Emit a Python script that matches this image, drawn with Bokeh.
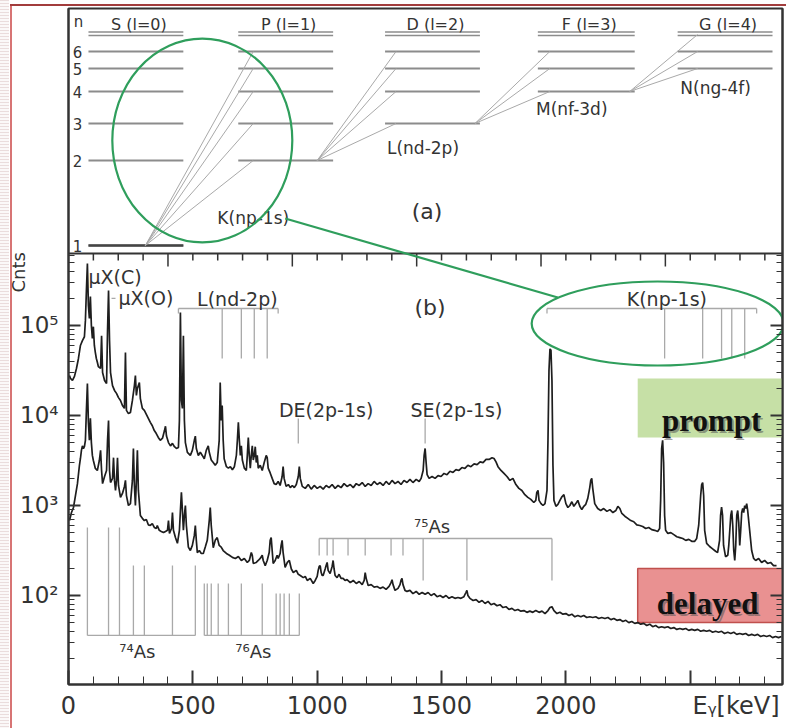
from bokeh.plotting import figure
from bokeh.models import Range1d, LinearScale, LogAxis, FixedTicker, Title
from bokeh.core.properties import value
from bokeh.embed import file_html
from bokeh.resources import INLINE

# ---------------- panel (b): gamma spectra (E [keV], counts) ----------------
prompt_points = [
    (4, 27800), (8, 25800), (16, 24500), (24, 27200), (32, 33300), (40, 43000), (48, 60000), (56, 68000),
    (64, 75000), (68, 114000), (72, 245000), (76, 489000), (80, 167000), (84, 120000), (88, 210000),
    (92, 100000), (96, 72000), (100, 97000), (104, 60000), (108, 50000), (112, 43000), (116, 39000),
    (120, 35000), (129, 33300), (133, 77000), (137, 30000), (145, 24500), (153, 22700), (157, 88000),
    (161, 245000), (165, 68000), (169, 30000), (177, 21500), (185, 19000), (193, 17600), (201, 15800),
    (209, 14700), (217, 12900), (225, 12000), (229, 50000), (233, 11400), (241, 10500), (249, 10800),
    (257, 14700), (265, 21500), (269, 27800), (273, 16700), (277, 20000), (285, 23300), (289, 15400),
    (297, 12000), (305, 11400), (313, 10300), (321, 9300), (329, 8400), (337, 7700), (345, 6800),
    (353, 6300), (361, 5700), (369, 5300), (378, 5600), (386, 6800), (390, 7600), (394, 5900),
    (402, 5000), (410, 4600), (418, 4900), (426, 4500), (434, 4300), (442, 4400), (446, 8800),
    (450, 139000), (454, 14700), (458, 12000), (462, 77000), (466, 8800), (470, 5000), (478, 3900),
    (490, 3600), (498, 4100), (506, 5300), (510, 5900), (514, 4300), (522, 3600), (530, 3900),
    (538, 3600), (546, 3300), (554, 4100), (562, 4600), (566, 3900), (574, 3200), (582, 3000),
    (590, 2800), (598, 3000), (606, 5300), (610, 23300), (614, 8800), (618, 12900), (622, 5300),
    (626, 3300), (635, 2700), (643, 2600), (651, 2700), (659, 2500), (667, 2700), (675, 3600),
    (679, 5300), (683, 8400), (687, 5300), (691, 3600), (695, 4600), (699, 3200), (707, 2600),
    (715, 2450), (719, 3600), (723, 5700), (727, 3600), (731, 2600), (735, 3600), (739, 4600),
    (743, 3200), (747, 3600), (751, 4500), (755, 3000), (759, 3600), (763, 2600), (771, 2800),
    (779, 2450), (787, 3000), (795, 3600), (799, 3400), (803, 2600), (811, 2300), (819, 2000),
    (827, 1750), (835, 1710), (843, 1850), (851, 1670), (859, 2100), (863, 2700), (867, 2000),
    (875, 1630), (884, 1710), (892, 1580), (900, 1670), (908, 1580), (916, 1710), (924, 2100),
    (928, 2700), (932, 2000), (940, 1630), (952, 1550), (964, 1710), (976, 1520), (988, 1670),
    (1000, 1550), (1012, 1630), (1024, 1520), (1036, 1670), (1048, 1580), (1060, 1710), (1072, 1550),
    (1084, 1670), (1096, 1580), (1108, 1750), (1120, 1630), (1133, 1710), (1145, 1580), (1157, 1750),
    (1169, 1670), (1181, 1800), (1193, 1630), (1205, 1750), (1217, 1670), (1229, 1850), (1241, 1710),
    (1253, 1800), (1265, 1670), (1277, 1850), (1289, 1710), (1301, 1900), (1313, 1750), (1325, 1850),
    (1337, 1710), (1349, 1900), (1361, 1800), (1373, 1950), (1385, 1800), (1398, 1950), (1410, 1850),
    (1418, 2000), (1426, 2450), (1430, 3600), (1434, 4300), (1438, 3000), (1442, 2200), (1450, 2000),
    (1462, 2100), (1474, 2000), (1486, 2150), (1498, 2100), (1510, 2270), (1522, 2200), (1534, 2400),
    (1546, 2330), (1558, 2500), (1570, 2450), (1582, 2640), (1594, 2580), (1606, 2800), (1618, 2700),
    (1631, 2900), (1643, 2850), (1655, 3050), (1667, 3000), (1679, 3250), (1691, 3250), (1703, 3400),
    (1711, 3330), (1719, 3050), (1727, 2700), (1739, 2450), (1751, 2270), (1763, 2100), (1775, 1900),
    (1787, 2000), (1799, 1710), (1811, 1550), (1823, 1470), (1835, 1320), (1847, 1230), (1859, 1170),
    (1871, 1080), (1879, 1140), (1883, 1400), (1888, 1470), (1892, 1140), (1900, 1050), (1908, 1000),
    (1916, 1050), (1924, 1470), (1928, 5300), (1932, 31600), (1936, 55000), (1940, 53000), (1944, 24500),
    (1948, 2800), (1952, 1140), (1960, 980), (1968, 1030), (1976, 1140), (1984, 1250), (1992, 1320),
    (2000, 1050), (2008, 950), (2016, 1000), (2024, 1100), (2032, 980), (2040, 1050), (2048, 1140),
    (2056, 980), (2064, 900), (2072, 980), (2080, 1030), (2088, 1200), (2096, 1580), (2100, 1900),
    (2104, 2000), (2108, 1550), (2116, 1050), (2128, 925), (2140, 880), (2152, 925), (2165, 860),
    (2177, 900), (2189, 835), (2201, 880), (2209, 980), (2217, 925), (2225, 815), (2237, 760),
    (2249, 720), (2261, 680), (2273, 660), (2285, 610), (2297, 600), (2309, 585), (2321, 555),
    (2333, 570), (2345, 540), (2357, 530), (2369, 515), (2377, 555), (2381, 1140), (2385, 4300),
    (2389, 5300), (2393, 3000), (2397, 775), (2401, 530), (2410, 490), (2422, 500), (2434, 475),
    (2446, 450), (2458, 440), (2470, 430), (2482, 410), (2494, 420), (2506, 400), (2518, 400),
    (2526, 430), (2534, 600), (2542, 1290), (2546, 1710), (2550, 1800), (2554, 1290), (2558, 530),
    (2566, 380), (2578, 350), (2590, 330), (2602, 310), (2610, 300), (2618, 410), (2622, 775),
    (2626, 960), (2630, 775), (2634, 360), (2642, 270), (2651, 280), (2655, 360), (2663, 775),
    (2667, 880), (2671, 600), (2675, 316), (2679, 245), (2683, 360), (2687, 775), (2691, 880),
    (2695, 650), (2699, 360), (2703, 530), (2707, 835), (2711, 925), (2715, 835), (2719, 1000),
    (2723, 925), (2727, 1050), (2731, 880), (2739, 530), (2747, 316), (2755, 258), (2763, 245),
    (2775, 258), (2787, 233), (2799, 245), (2811, 227), (2823, 233), (2835, 215), (2847, 215),
]

delayed_points = [
    (4, 680), (12, 835), (20, 950), (28, 1290), (36, 1750), (44, 2800), (48, 3330), (52, 4100),
    (56, 4600), (60, 4300), (64, 4500), (68, 5300), (72, 11400), (76, 22700), (80, 8400), (84, 5300),
    (88, 9300), (92, 5000), (96, 3600), (100, 3160), (108, 2580), (116, 2450), (124, 3160), (129, 4100),
    (133, 2450), (137, 1750), (145, 2100), (153, 2450), (157, 5300), (161, 8800), (165, 2450),
    (169, 1800), (177, 2000), (181, 3400), (185, 1900), (189, 1470), (193, 1900), (197, 3400),
    (201, 1670), (209, 1230), (217, 1360), (225, 1630), (229, 1900), (233, 1290), (241, 1000),
    (249, 1050), (257, 1900), (261, 4300), (265, 1670), (269, 1000), (273, 1900), (277, 4100),
    (281, 1470), (289, 775), (297, 720), (305, 680), (313, 700), (321, 610), (329, 600), (337, 630),
    (345, 570), (353, 555), (357, 600), (365, 530), (373, 515), (382, 500), (390, 515), (398, 530),
    (402, 680), (406, 490), (414, 555), (418, 835), (422, 530), (430, 440), (438, 380), (446, 530),
    (450, 880), (454, 1400), (458, 880), (462, 530), (466, 775), (470, 1000), (474, 600), (482, 345),
    (490, 316), (498, 360), (506, 465), (510, 600), (514, 410), (518, 300), (526, 316), (534, 293),
    (542, 293), (550, 345), (558, 410), (566, 680), (570, 950), (574, 600), (582, 340), (590, 410),
    (598, 440), (606, 360), (614, 345), (622, 316), (635, 293), (647, 280), (659, 265), (671, 258),
    (683, 271), (695, 245), (707, 258), (719, 233), (727, 245), (735, 300), (739, 280), (743, 227),
    (755, 233), (763, 245), (771, 258), (779, 280), (783, 245), (791, 215), (799, 245), (807, 300),
    (811, 410), (815, 440), (819, 316), (823, 227), (831, 245), (839, 280), (843, 258), (851, 293),
    (855, 360), (859, 410), (863, 300), (871, 205), (880, 233), (888, 245), (896, 197), (904, 180),
    (916, 190), (924, 172), (932, 167), (944, 158), (952, 163), (960, 147), (972, 155), (984, 136),
    (992, 147), (1000, 163), (1004, 190), (1008, 210), (1012, 215), (1016, 180), (1020, 167),
    (1024, 167), (1032, 197), (1036, 215), (1040, 233), (1044, 190), (1052, 175), (1060, 210),
    (1064, 245), (1068, 197), (1072, 167), (1080, 158), (1088, 172), (1096, 155), (1104, 155),
    (1112, 147), (1120, 150), (1133, 139), (1145, 147), (1157, 136), (1169, 143), (1181, 132),
    (1189, 147), (1193, 180), (1197, 155), (1205, 129), (1217, 132), (1229, 124), (1241, 126),
    (1253, 120), (1265, 124), (1277, 117), (1289, 126), (1297, 139), (1301, 150), (1305, 132),
    (1313, 114), (1325, 120), (1333, 132), (1337, 147), (1341, 155), (1345, 132), (1353, 114),
    (1361, 111), (1373, 114), (1385, 105), (1398, 111), (1410, 103), (1422, 108), (1434, 103),
    (1446, 108), (1458, 100), (1470, 105), (1482, 97), (1494, 100), (1506, 95), (1518, 100),
    (1530, 93), (1542, 97), (1554, 93), (1566, 95), (1578, 93), (1590, 97), (1598, 108), (1602, 114),
    (1606, 100), (1614, 93), (1627, 88), (1639, 90), (1651, 84), (1663, 88), (1675, 81.5), (1687, 86),
    (1699, 79), (1711, 81.5), (1723, 77), (1735, 79), (1747, 73.5), (1759, 75), (1771, 70), (1783, 72),
    (1795, 68), (1807, 70), (1819, 67), (1831, 68), (1843, 65), (1855, 67), (1867, 65), (1879, 68),
    (1892, 65), (1904, 67), (1916, 63), (1928, 68), (1936, 73.5), (1944, 75), (1952, 68), (1964, 63),
    (1976, 65), (1988, 62), (2000, 63), (2012, 60), (2024, 62), (2036, 58), (2048, 60), (2060, 58),
    (2072, 60), (2084, 57), (2096, 58), (2108, 57), (2120, 58), (2132, 55.5), (2144, 57), (2157, 55.5),
    (2169, 57), (2181, 54), (2193, 55.5), (2205, 53), (2217, 54), (2229, 51.5), (2241, 53), (2253, 50),
    (2265, 51.5), (2277, 49), (2289, 50), (2301, 48), (2313, 49), (2325, 46.4), (2337, 48), (2349, 45),
    (2361, 46.4), (2373, 44), (2385, 45), (2397, 44), (2410, 45), (2422, 43), (2434, 44), (2446, 42),
    (2458, 43), (2470, 42), (2482, 43), (2494, 41), (2506, 42), (2518, 41), (2530, 42), (2542, 40),
    (2554, 41), (2566, 40), (2578, 41), (2590, 39), (2602, 40), (2614, 39), (2626, 40), (2638, 37.8),
    (2651, 39), (2663, 37.8), (2675, 39), (2687, 37), (2699, 37.8), (2711, 37), (2723, 37.8),
    (2735, 36), (2747, 37), (2759, 36), (2771, 37), (2783, 35), (2795, 36), (2807, 35), (2819, 36),
    (2831, 34), (2843, 35), (2855, 34), (2867, 35),
]

prompt_keV = [e for e, c in prompt_points]
prompt_cnts = [c for e, c in prompt_points]
delayed_keV = [e for e, c in delayed_points]
delayed_cnts = [c for e, c in delayed_points]

# line markers (keV)
L_lines_keV = [618, 695, 747, 799]
L_bracket_keV = [442, 843]
K_lines_keV = [2397, 2550, 2626, 2667, 2719]
K_bracket_keV = [1924, 2767]
bracket_top_cnts = 154500
bracket_long_end = 43000
bracket_short_end = 136000
escape_keV = [924, 1434]                 # DE(2p-1s), SE(2p-1s)
escape_span_cnts = [9270, 4890]
as74_keV = [76, 161, 205, 261, 305, 418, 510]
as74_top = [570, 570, 570, 215, 215, 215, 215]
as76_keV = [546, 558, 574, 602, 643, 695, 779, 835, 851, 867, 888, 928]
as76_top = [136, 136, 136, 136, 136, 136, 136, 105, 105, 105, 105, 105]
as_base_cnts = 36
as75_keV = [1008, 1040, 1064, 1124, 1193, 1297, 1345, 1426, 1602, 1944]
as75_bottom = [278, 278, 278, 278, 278, 278, 278, 147, 147, 147]
as75_top_cnts = 430

# ---------------- panel (a): level scheme (schematic page units) ----------------
col_names = ["S (l=0)", "P (l=1)", "D (l=2)", "F (l=3)", "G (l=4)"]
col_left = [88, 238, 385, 538, 678]
col_right = [183, 333, 480, 635, 773]
col_lowest_n = [1, 2, 3, 4, 5]
level_height = {1: 245, 2: 160, 3: 123, 4: 91, 5: 68, 6: 51}
series_limit = [31.5, 35]
trans_names = ["K(np-1s)", "L(nd-2p)", "M(nf-3d)", "N(ng-4f)"]
trans_from_n = [1, 2, 3, 4]
trans_from_x = [145, 317, 475, 630]
trans_to_x = [253, 396, 550, 698]
trans_to_n = [[2, 3, 4, 5, 6], [3, 4, 5, 6], [4, 5, 6], [5, 6, 0]]   # 0 = series limit
trans_label_xy = [(253, 217), (423, 147), (572, 108), (716, 87)]

DARK = "#333333"
GRAY = "#8c8c8c"
LIGHT = "#a9a9a9"
GREEN = "#2f9e5c"
FONT = value("DejaVu Sans")

p = figure(width=786, height=728, x_range=Range1d(0, 2871),
           y_range=Range1d(10 ** 1.0111, 10 ** 8.5222), y_axis_type="log",
           output_backend="svg", toolbar_location=None,
           min_border_left=68, min_border_right=3, min_border_top=8, min_border_bottom=44)
p.extra_x_ranges = {"ax": Range1d(68, 783)}
p.extra_y_ranges = {"ay": Range1d(684, 8)}
p.extra_x_scales = {"ax": LinearScale()}
p.extra_y_scales = {"ay": LinearScale()}
p.xgrid.visible = False
p.ygrid.visible = False
p.background_fill_color = "white"
p.border_fill_color = None
p.outline_line_color = DARK
p.outline_line_width = 2
p.styles = {"background":
            "linear-gradient(#a23c3c, #a23c3c) 10px 4px / 100% 2px no-repeat, "
            "linear-gradient(#d77474, #d77474) 10px 4px / 2px 100% no-repeat, "
            "repeating-linear-gradient(to bottom, #eadcdc 0px, #eadcdc 1px, #fbf8f8 1px, #fbf8f8 3px) "
            "0px 0px / 9px 100% no-repeat, #ffffff"}

# axes
xa = p.xaxis[0]
xa.ticker = FixedTicker(ticks=[0, 500, 1000, 1500, 2000, 2500],
                        minor_ticks=list(range(0, 2900, 100)))
xa.major_label_overrides = {2500: "\u2007" * 6 + "E\u1d67[keV]"}
log_minor = [m * 10 ** d for d in range(1, 6) for m in range(2, 10) if m * 10 ** d <= 600000]
for ax in (xa, p.yaxis[0]):
    ax.major_tick_out = 0
    ax.minor_tick_out = 0
    ax.axis_line_width = 2
    ax.axis_line_color = DARK
    ax.major_tick_line_color = DARK
    ax.minor_tick_line_color = DARK
    ax.major_tick_line_width = 2
    ax.major_label_text_font = "DejaVu Sans"
    ax.major_label_text_color = DARK
xa.major_tick_in = 14
xa.minor_tick_in = 8
xa.major_label_text_font_size = "24px"
xa.major_label_standoff = 7
ya = p.yaxis[0]
ya.ticker = FixedTicker(ticks=[100, 1000, 10000, 100000], minor_ticks=log_minor)
ya.major_label_overrides = {100: "10²", 1000: "10³", 10000: "10⁴", 100000: "10⁵"}
ya.major_tick_in = 12
ya.minor_tick_in = 6
ya.major_label_text_font_size = "23px"
ya.major_label_standoff = 10

ra = LogAxis(ticker=FixedTicker(ticks=[100, 1000, 10000, 100000], minor_ticks=log_minor),
             major_label_overrides={100: " ", 1000: " ", 10000: " ", 100000: " "},
             major_label_text_font_size="4px", major_label_standoff=0,
             major_tick_in=12, major_tick_out=0, minor_tick_in=6, minor_tick_out=0,
             axis_line_width=2, axis_line_color=DARK, major_tick_line_width=2,
             major_tick_line_color=DARK, minor_tick_line_color=DARK)
p.add_layout(ra, "right")

# y-axis title, pulled close to the tick labels and raised to the top of panel (b)
p.add_layout(Title(text="Cnts", align="left", offset=392, standoff=-22, vertical_align="bottom",
                   text_font="DejaVu Sans", text_font_size="18px", text_font_style="normal",
                   text_color=DARK), "left")

# ---- panel (a) drawing ----
for i, name in enumerate(col_names):
    ns = [n for n in range(col_lowest_n[i], 7)]
    ys = [level_height[n] for n in ns]
    p.segment(x0=[col_left[i]] * len(ys), y0=ys, x1=[col_right[i]] * len(ys), y1=ys,
              line_color=GRAY, line_width=2, x_range_name="ax", y_range_name="ay")
    p.segment(x0=[col_left[i]] * 2, y0=series_limit, x1=[col_right[i]] * 2, y1=series_limit,
              line_color=GRAY, line_width=1.6, x_range_name="ax", y_range_name="ay")
p.segment(x0=[col_left[0]], y0=[level_height[1]], x1=[col_right[0]], y1=[level_height[1]],
          line_color="#444444", line_width=2.6, x_range_name="ax", y_range_name="ay")

for i in range(4):
    ends = [level_height[n] if n else series_limit[1] - 1 for n in trans_to_n[i]]
    k = len(ends)
    p.segment(x0=[trans_from_x[i]] * k, y0=[level_height[trans_from_n[i]]] * k,
              x1=[trans_to_x[i]] * k, y1=ends, line_color=LIGHT, line_width=1,
              x_range_name="ax", y_range_name="ay")

p.text(x=[(l + r) / 2 + 3 for l, r in zip(col_left, col_right)], y=[24] * 5, text=col_names,
       text_font=FONT, text_font_size="16px", text_color=DARK, text_align="center",
       text_baseline="middle", x_range_name="ax", y_range_name="ay")
p.text(x=[78] + [77] * 6, y=[21] + [level_height[n] for n in range(1, 7)],
       text=["n"] + [str(n) for n in range(1, 7)], text_font=FONT, text_font_size="15px",
       text_color=DARK, text_align="center", text_baseline="middle",
       x_range_name="ax", y_range_name="ay")
p.text(x=[xy[0] for xy in trans_label_xy], y=[xy[1] for xy in trans_label_xy], text=trans_names,
       text_font=FONT, text_font_size="17px", text_color=DARK, text_align="center",
       text_baseline="middle", x_range_name="ax", y_range_name="ay")
p.text(x=[427, 430], y=[211, 307], text=["(a)", "(b)"], text_font=FONT, text_font_size="22px",
       text_color=DARK, text_align="center", text_baseline="middle",
       x_range_name="ax", y_range_name="ay")

# separator between panels and its tick marks (top axis of panel b)
p.segment(x0=[68], y0=[253], x1=[783], y1=[253], line_color=DARK, line_width=2,
          x_range_name="ax", y_range_name="ay")
top_ticks = list(range(100, 2900, 100))
top_major = [400, 900, 1400, 1900, 2400]
p.segment(x0=top_ticks, y0=[253] * len(top_ticks), x1=top_ticks,
          y1=[266 if t in top_major else 260 for t in top_ticks],
          line_color=DARK, line_width=1.5, y_range_name="ay")

# ---- panel (b) drawing ----
# boxes behind the spectra
p.quad(left=[638], right=[800], top=[378], bottom=[437], fill_color="#c6e0a6", line_color=None,
       x_range_name="ax", y_range_name="ay")
p.quad(left=[638], right=[800], top=[568], bottom=[622], fill_color="#e99191",
       line_color="#c0504d", line_width=1.5, x_range_name="ax", y_range_name="ay")

# line-marker brackets
def vsegs(xs, y0s, y1s):
    p.segment(x0=xs, y0=y0s, x1=xs, y1=y1s, line_color=LIGHT, line_width=1.3)

def hseg(xa_, xb_, y):
    p.segment(x0=[xa_], y0=[y], x1=[xb_], y1=[y], line_color=LIGHT, line_width=1.3)

for lines, br in ((L_lines_keV, L_bracket_keV), (K_lines_keV, K_bracket_keV)):
    hseg(br[0], br[1], bracket_top_cnts)
    vsegs(lines, [bracket_top_cnts] * len(lines), [bracket_long_end] * len(lines))
    vsegs(br, [bracket_top_cnts] * 2, [bracket_short_end] * 2)
vsegs(escape_keV, [escape_span_cnts[0]] * 2, [escape_span_cnts[1]] * 2)
hseg(173, 189, 200000)
hseg(as74_keV[0], as74_keV[-1], as_base_cnts)
vsegs(as74_keV, [as_base_cnts] * len(as74_keV), as74_top)
hseg(as76_keV[0], as76_keV[-1], as_base_cnts)
vsegs(as76_keV, [as_base_cnts] * len(as76_keV), as76_top)
hseg(as75_keV[0], as75_keV[-1], as75_top_cnts)
vsegs(as75_keV, [as75_top_cnts] * len(as75_keV), as75_bottom)

# spectra
p.line(delayed_keV, delayed_cnts, line_color="#1e1e1e", line_width=1.7)
p.line(prompt_keV, prompt_cnts, line_color="#1e1e1e", line_width=1.7)

# spectrum annotations
p.text(x=[80, 201], y=[350000, 200000], text=["µX(C)", "µX(O)"], text_font=FONT,
       text_font_size="19px", text_color=DARK, text_align="left", text_baseline="middle")
p.text(x=[679, 2406, 1036, 1560], y=[195000, 195000, 11400, 11400],
       text=["L(nd-2p)", "K(np-1s)", "DE(2p-1s)", "SE(2p-1s)"], text_font=FONT,
       text_font_size="19px", text_color=DARK, text_align="center", text_baseline="middle")
p.text(x=[1462, 277, 743], y=[580, 23.9, 23.9], text=["⁷⁵As", "⁷⁴As", "⁷⁶As"], text_font=FONT,
       text_font_size="18px", text_color=DARK, text_align="center", text_baseline="middle")

# box labels with a soft shadow
for txt, x, y in (("prompt", 712, 420), ("delayed", 708, 603)):
    p.text(x=[x], y=[y], text=[txt], text_font=value("Liberation Serif"), text_font_style="bold",
           text_font_size="31px", text_color="#555555", text_alpha=0.55, x_offset=2, y_offset=2,
           text_align="center", text_baseline="alphabetic", x_range_name="ax", y_range_name="ay")
    p.text(x=[x], y=[y], text=[txt], text_font=value("Liberation Serif"), text_font_style="bold",
           text_font_size="31px", text_color="#111111", text_align="center",
           text_baseline="alphabetic", x_range_name="ax", y_range_name="ay")

# green zoom ellipses and connector
p.ellipse(x=[202, 658], y=[140, 323], width=[180, 252], height=[204, 84],
          width_units="screen", height_units="screen", fill_alpha=0, line_color=GREEN,
          line_width=2.2, x_range_name="ax", y_range_name="ay")
p.segment(x0=[285], y0=[218], x1=[558], y1=[297], line_color=GREEN, line_width=2.2,
          x_range_name="ax", y_range_name="ay")

open("out.html", "w").write(file_html(p, INLINE))
